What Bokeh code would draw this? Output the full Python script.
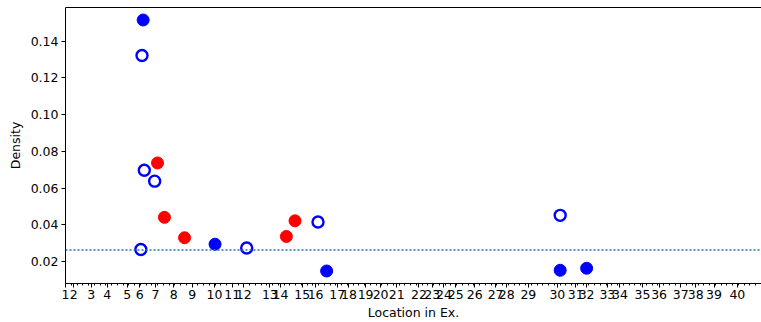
import numpy as np
from bokeh.plotting import figure
from bokeh.models import (FixedTicker, LinearAxis, Span,
                          NumeralTickFormatter, Range1d)
from bokeh.embed import file_html
from bokeh.resources import INLINE

# Tick labels (locations) and their positions along the x scale
loc_labels = [str(i) for i in range(1, 41)]
loc_pos = [0.0, 1.44, 4.47, 7.25, 10.73, 12.92, 15.65, 18.83, 22.03, 25.91,
           28.99, 31.0, 35.53, 37.39, 41.16, 43.48, 47.25, 49.27, 52.17, 54.78,
           57.57, 61.44, 63.77, 65.79, 67.83, 71.13, 74.78, 76.7, 80.47, 85.51,
           88.7, 90.6, 94.2, 96.4, 100.3, 103.2, 106.96, 109.57, 112.75, 116.8]

# Series: filled blue, open blue, red
blue_fill_x = [13.5, 26.0, 45.4, 86.0, 90.6]
blue_fill_y = [0.1515, 0.0295, 0.0149, 0.0153, 0.0164]
blue_open_x = [13.3, 13.7, 15.5, 31.5, 13.1, 43.9, 86.0]
blue_open_y = [0.1322, 0.0697, 0.0638, 0.0274, 0.0266, 0.0416, 0.0452]
red_x = [16.0, 17.2, 20.7, 38.4, 39.9]
red_y = [0.0737, 0.0441, 0.0330, 0.0337, 0.0422]
baseline = 0.0263

p = figure(width=761, height=322, output_backend="svg", toolbar_location=None,
           x_range=Range1d(0, 121.0), y_range=Range1d(0.0081, 0.1583),
           min_border_left=65, min_border_right=0, min_border_top=7,
           min_border_bottom=0)
p.outline_line_color = None
p.xgrid.visible = False
p.ygrid.visible = False
p.background_fill_color = "white"

xa = p.xaxis[0]
xa.ticker = FixedTicker(ticks=loc_pos, minor_ticks=list(np.arange(0, 122, 1.0)))
xa.major_label_overrides = {float(k): v for k, v in zip(loc_pos, loc_labels)}
xa.axis_label = "Location in Ex."

ya = p.yaxis[0]
ya.ticker = FixedTicker(ticks=[0.02, 0.04, 0.06, 0.08, 0.10, 0.12, 0.14])
ya.formatter = NumeralTickFormatter(format="0.00")
ya.axis_label = "Density"

for ax in (xa, ya):
    ax.axis_line_color = "black"
    ax.major_tick_line_color = "black"
    ax.major_tick_out = 4
    ax.major_tick_in = 0
    ax.minor_tick_out = 2
    ax.minor_tick_in = 0
    ax.major_label_text_color = "black"
    ax.major_label_text_font = "DejaVu Sans"
    ax.major_label_text_font_size = "12.5px"
    ax.axis_label_text_color = "black"
    ax.axis_label_text_font = "DejaVu Sans"
    ax.axis_label_text_font_size = "12.5px"
    ax.axis_label_text_font_style = "normal"
xa.major_label_standoff = 2
xa.axis_label_standoff = 3
ya.major_label_standoff = 3
ya.axis_label_standoff = 5
xa.minor_tick_line_color = "black"
ya.minor_tick_line_color = None

top = LinearAxis(ticker=FixedTicker(ticks=[]), major_label_text_font_size="0px",
                 major_tick_out=0, minor_tick_out=0, axis_line_color="black",
                 major_label_standoff=0, axis_label_standoff=0)
p.add_layout(top, "above")

p.add_layout(Span(location=baseline, dimension="width", line_color="#1f77b4",
                  line_width=1.5, line_dash="2 2"))

p.scatter(blue_fill_x, blue_fill_y, size=12, fill_color="#0000ff",
          line_color="#0000ff")
p.scatter(red_x, red_y, size=12, fill_color="#ff0000", line_color="#ff0000")
p.scatter(blue_open_x, blue_open_y, size=11, fill_color="white",
          line_color="#0000ff", line_width=2.4)

open("out.html", "w").write(file_html(p, INLINE))
